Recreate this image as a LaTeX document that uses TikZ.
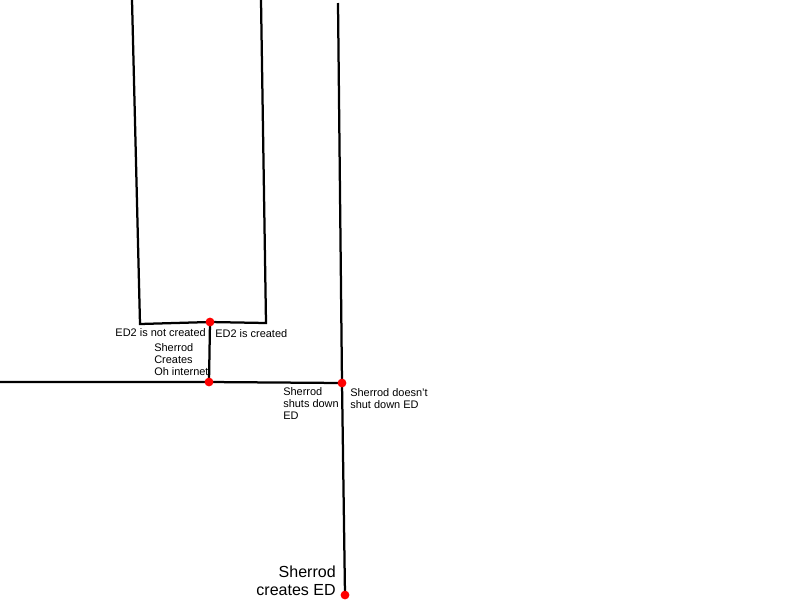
\documentclass[tikz,border=0pt]{standalone}
\usepackage{fontspec}
\setmainfont{Liberation Sans}
\usetikzlibrary{backgrounds}

\begin{document}
\begin{tikzpicture}[x=0.025cm, y=-0.025cm,
    branch/.style={draw=black, line width=1.6pt},
    event/.style={circle, fill=red, inner sep=0pt, minimum size=0.22cm},
    note/.style={inner sep=0pt, align=left, font=\fontsize{7.8}{8.5}\selectfont},
    bignote/.style={inner sep=0pt, align=right, font=\fontsize{11.4}{12.8}\selectfont}]
        \useasboundingbox (0,0) rectangle (800,600);

        % Events
        \node[event] (createED) at (345,595) {};
        \node[event] (shutdown) at (342,383) {};
        \node[event] (ohinternet) at (209,382) {};
        \node[event] (edtwo) at (210,322) {};

        % Loose ends of the timelines
        \coordinate (topED) at (338,3);
        \coordinate (leftend) at (0,382);
        \coordinate (notcreatedcorner) at (140,324);
        \coordinate (createdcorner) at (266,323);
        \coordinate (notcreatedtop) at (132,0);
        \coordinate (createdtop) at (261,0);

        % Timelines
        \begin{scope}[on background layer]
            \draw[branch] (createED.center) -- (shutdown.center) -- (topED);
            \draw[branch] (shutdown.center) -- (ohinternet.center) -- (leftend);
            \draw[branch] (ohinternet.center) -- (edtwo.center);
            \draw[branch] (notcreatedtop) -- (notcreatedcorner) -- (edtwo.center) -- (createdcorner) -- (createdtop);
        \end{scope}

        % Labels
        \node[bignote, anchor=north east] (createlabel) at (336,566) {Sherrod\\creates ED};
        \node[note, anchor=north west] (shutlabel) at (283,387) {Sherrod\\shuts down\\ED};
        \node[note, anchor=north west] (noshutlabel) at (350,388) {Sherrod doesn't\\shut down ED};
        \node[note, anchor=north west] (ohlabel) at (154,343) {Sherrod\\Creates\\Oh internet};
        \node[note, anchor=base east] (notcreatedlabel) at (206,336) {ED2 is not created};
        \node[note, anchor=base west] (createdlabel) at (215,337) {ED2 is created};
    \end{tikzpicture}
\end{document}
